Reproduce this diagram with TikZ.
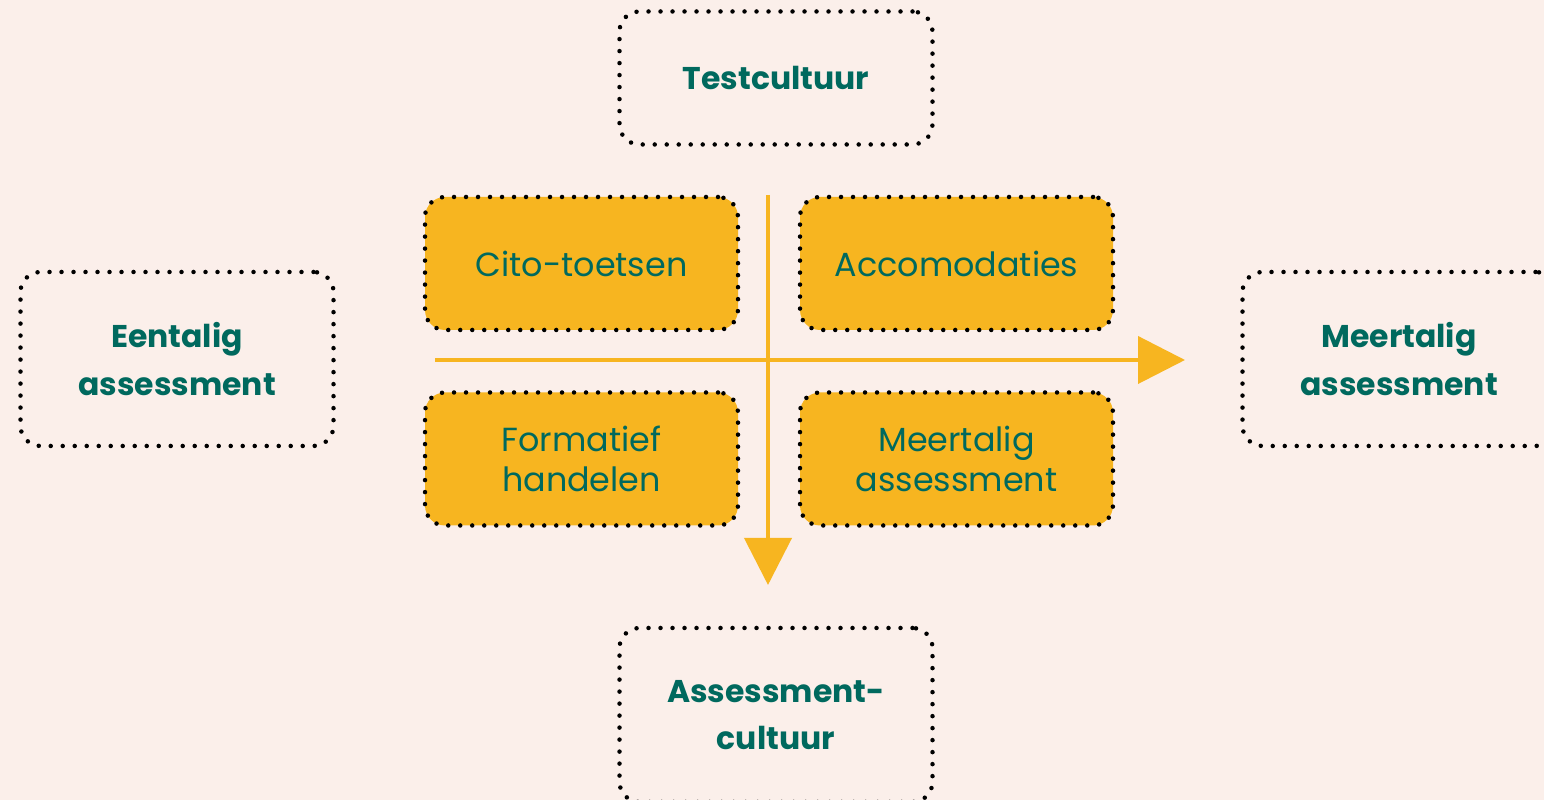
\documentclass[tikz,border=0pt]{standalone}
\usepackage{fontspec}
\setmainfont{Poppins}
\usepackage{xcolor}
\usetikzlibrary{positioning, arrows.meta}
\definecolor{bgcream}{HTML}{FBEFEA}
\definecolor{gold}{HTML}{F7B520}
\definecolor{teal}{HTML}{00695E}

\begin{document}
\begin{tikzpicture}[dots/.style = {draw, line width=0.045cm, line cap=round, dash pattern=on 0pt off 0.12cm, rounded corners=0.2cm, align=center, text=teal, font=\fontsize{9}{12.5}\selectfont},
		outer/.style = {dots, minimum width=3.13cm, minimum height=1.74cm, font=\bfseries\fontsize{8.95}{13.4}\selectfont},
		inner/.style = {dots, fill=gold, minimum width=3.13cm, minimum height=1.33cm, font=\fontsize{9.5}{11.2}\selectfont},
		axis/.style = {gold, line width=0.04cm, -{Triangle[length=0.47cm, width=0.47cm]}}]
			\fill[bgcream] (0,0) rectangle (15.44,8);
			\useasboundingbox (0,0) rectangle (15.44,8);
			\node[outer, minimum height=1.33cm] (t) at (7.76,7.22) {Testcultuur};
			\node[outer] (e) at (1.77,4.41) {Eentalig\\assessment};
			\node[outer] (m) at (13.99,4.41) {Meertalig\\assessment};
			\node[outer] (a) at (7.76,0.85) {Assessment-\\cultuur};
			\node[inner] (c) at (5.815,5.365) {Cito-toetsen};
			\node[inner] (k) at (9.565,5.365) {Accomodaties};
			\node[inner] (f) at (5.815,3.41) {Formatief\\handelen};
			\node[inner] (g) at (9.565,3.41) {Meertalig\\assessment};
			\coordinate (h0) at (4.35,4.40);
			\coordinate (h1) at (11.85,4.40);
			\coordinate (v0) at (7.68,6.05);
			\coordinate (v1) at (7.68,2.15);
			\draw[axis] (h0) -- (h1);
			\draw[axis] (v0) -- (v1);
		\end{tikzpicture}
\end{document}
